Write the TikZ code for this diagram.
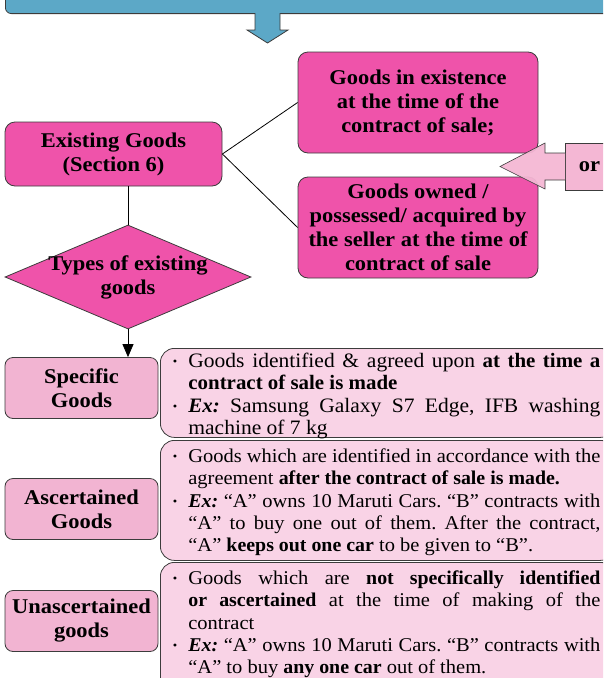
\documentclass[tikz,border=0pt]{standalone}
\usepackage{fontspec}
\setmainfont{Liberation Serif}[FakeStretch=1.05]
\newfontfamily\dboldfont{Liberation Serif Bold}[FakeStretch=1.02]
\newfontfamily\dbifont{Liberation Serif Bold Italic}[FakeStretch=1.02]
\newfontfamily\titlefont{Liberation Serif Bold}[FakeStretch=1.07]
\newcommand{\db}[1]{{\dboldfont #1}}
\newcommand{\dbi}[1]{{\dbifont #1}}
\usetikzlibrary{shapes.geometric,arrows.meta}
\definecolor{hotpink}{RGB}{239,83,170}
\definecolor{lightpink}{RGB}{249,211,230}
\definecolor{midpink}{RGB}{242,180,210}
\definecolor{orpink}{RGB}{244,183,212}
\definecolor{topblue}{RGB}{92,168,199}
\definecolor{edgec}{RGB}{60,60,60}
\newcommand{\bul}{\makebox[16pt][l]{\hspace{0.5pt}\raisebox{1.5pt}{\fontsize{12}{12}\selectfont\textbullet}}}
\newcommand{\jl}[1]{\makebox[412pt][s]{\spaceskip=0pt\xspaceskip=0pt #1}}
\newcommand{\nat}[1]{{\spaceskip=0pt\xspaceskip=0pt #1}}
\newcommand{\ind}{\hspace*{16pt}}
\tikzset{
  hotbox/.style={draw=edgec, line width=0.8pt, fill=hotpink, rounded corners=10pt, align=center,
    font=\titlefont\fontsize{21}{24}\selectfont, inner sep=0pt},
  lblbox/.style={draw=edgec, line width=0.8pt, fill=midpink, rounded corners=8pt, align=center,
    font=\titlefont\fontsize{21}{24}\selectfont, minimum width=153pt, minimum height=61pt, inner sep=0pt},
  descbox/.style={draw=edgec, line width=0.8pt, fill=lightpink, rounded corners=14pt, anchor=north west,
    text width=430pt, inner xsep=12pt, inner ysep=0pt, align=left,
    font=\frenchspacing\fontsize{19.5}{22.3}\selectfont},
  conn/.style={draw=black, line width=0.8pt},
}
\begin{document}
\begin{tikzpicture}[x=1pt,y=-1pt]
\useasboundingbox (0,0) rectangle (603,678);
\clip (0,0) rectangle (603,678);
% title bar (cut off at top)
\node[draw=edgec, line width=0.8pt, fill=topblue, rounded corners=6pt, minimum width=650pt,
  minimum height=40pt, anchor=south west, inner sep=0pt] (title) at (5,14) {};
\draw[draw=edgec, line width=0.8pt, fill=topblue] (255,13) -- (255,30) -- (247,30) -- (267.5,43)
  -- (288,30) -- (280,30) -- (280,13);
% main boxes
\node[hotbox, minimum width=240pt, minimum height=101pt] (exist) at (418,102.5)
  {Goods in existence\\at the time of the\\contract of sale;};
\node[hotbox, minimum width=217pt, minimum height=64pt] (eg) at (113.5,154)
  {Existing Goods\\(Section 6)};
\node[hotbox, minimum width=240pt, minimum height=101pt] (owned) at (418,227.5)
  {Goods owned /\\possessed/ acquired by\\the seller at the time of\\contract of sale};
\node[diamond, draw=edgec, line width=0.8pt, fill=hotpink, minimum width=246pt, minimum height=104pt,
  inner sep=0pt, label={[font=\titlefont\fontsize{21}{24}\selectfont, align=center]center:Types of existing\\goods}]
  (types) at (128,277) {};
% "or" arrow
\node[draw=edgec, line width=0.8pt, fill=orpink, minimum width=60pt, minimum height=47pt,
  anchor=west, inner sep=0pt, font=\titlefont\fontsize{21}{24}\selectfont] (orb) at (565,166.5)
  {\hspace*{-12pt}or};
\draw[draw=edgec, line width=0.6pt, fill=orpink, fill opacity=0.95] (orb.west) ++(0,-13.5) -- ++(-20,0)
  -- ++(0,-10) -- ++(-45,23.5) -- ++(45,22.5) -- ++(0,-9) -- ++(20,0);
% connectors
\draw[conn] (eg.east) -- (exist.west);
\draw[conn] (eg.east) -- (owned.west);
\draw[conn] (types.north |- eg.south) -- (types.north);
% type boxes
\node[lblbox] (spec) at (81.5,388) {Specific\\Goods};
\node[lblbox] (asc) at (81.5,509) {Ascertained\\Goods};
\node[lblbox] (unasc) at (81.5,621) {Unascertained\\goods};
\draw[conn, -{Triangle[width=11pt,length=13pt]}] (types.south) -- (types.south |- spec.north);
% descriptions
\node[descbox, text height=19pt, text depth=70pt, font=\frenchspacing\fontsize{20.5}{22.3}\selectfont] (d1) at (160,348) {%
\bul\jl{Goods identified \& agreed upon \db{at the time a}}\\
\ind\nat{\db{contract of sale is made}}\\
\bul\jl{\dbi{Ex:} Samsung Galaxy S7 Edge, IFB washing}\\
\ind\nat{machine of 7 kg}};
\node[descbox, text height=22pt, text depth=98pt] (d2) at (160,440) {%
\bul\jl{Goods which are identified in accordance with the}\\
\ind\nat{agreement \db{after the contract of sale is made.}}\\
\bul\jl{\dbi{Ex:} “A” owns 10 Maruti Cars. “B” contracts with}\\
\ind\jl{“A” to buy one out of them. After the contract,}\\
\ind\nat{“A” \db{keeps out one car} to be given to “B”.}};
\node[descbox, text height=22pt, text depth=106pt] (d3) at (160,562) {%
\bul\jl{Goods which are \db{not specifically identified}}\\
\ind\jl{\db{or ascertained} at the time of making of the}\\
\ind\nat{contract}\\
\bul\jl{\dbi{Ex:} “A” owns 10 Maruti Cars. “B” contracts with}\\
\ind\nat{“A” to buy \db{any one car} out of them.}};
\end{tikzpicture}
\end{document}
